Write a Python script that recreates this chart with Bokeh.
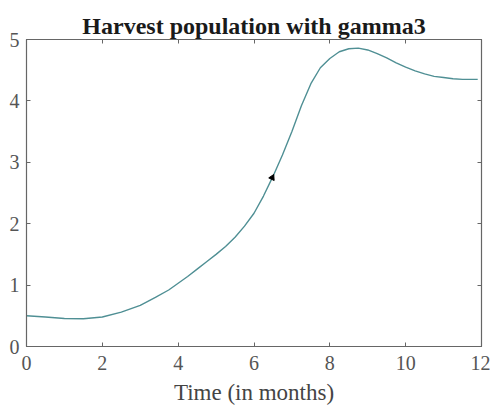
from bokeh.plotting import figure
from bokeh.models import LinearAxis, Range1d, FixedTicker
from bokeh.embed import file_html
from bokeh.resources import INLINE

title_text = "Harvest population with gamma3"
x_label = "Time (in months)"
x_ticks = [0, 2, 4, 6, 8, 10, 12]
y_ticks = [0, 1, 2, 3, 4, 5]

time = [0, 0.5, 1.0, 1.5, 2.0, 2.5, 3.0, 3.4, 3.75, 4.0, 4.25, 4.5, 4.75, 5.0,
        5.25, 5.5, 5.75, 6.0, 6.25, 6.5, 6.75, 7.0, 7.25, 7.5, 7.75, 8.0, 8.25,
        8.5, 8.75, 9.0, 9.25, 9.5, 9.75, 10.0, 10.25, 10.5, 10.75, 11.0, 11.25,
        11.5, 11.9]
population = [0.50, 0.48, 0.455, 0.452, 0.48, 0.56, 0.67, 0.80, 0.92, 1.03, 1.14,
              1.26, 1.38, 1.50, 1.63, 1.78, 1.96, 2.17, 2.45, 2.77, 3.12, 3.50,
              3.92, 4.28, 4.54, 4.69, 4.80, 4.85, 4.86, 4.83, 4.77, 4.70, 4.62,
              4.55, 4.49, 4.44, 4.40, 4.38, 4.36, 4.35, 4.35]
arrow_t = [6.48]
arrow_y = [2.75]

serif = "Liberation Serif"
axis_grey = "#666666"

p = figure(width=490, height=407, output_backend="svg", toolbar_location=None,
           x_range=Range1d(0, 12), y_range=Range1d(0, 5),
           min_border_left=26, min_border_right=9, min_border_top=39, min_border_bottom=10)

p.title.text = title_text
p.title.text_font = serif
p.title.text_font_size = "24px"
p.title.text_font_style = "bold"
p.title.text_color = "#1a1a1a"
p.title.align = "center"
p.title.offset = 0
p.title.standoff = 2

p.grid.visible = False
p.outline_line_color = axis_grey
p.outline_line_width = 1.2

p.line(time, population, line_color="#4f8f94", line_width=1.4)
p.scatter(arrow_t, arrow_y, marker="triangle", size=6, angle=-0.45,
          fill_color="black", line_color="black")

for ax in [p.xaxis[0], p.yaxis[0]]:
    ax.major_tick_in = 4
    ax.major_tick_out = 0
    ax.minor_tick_in = 0
    ax.minor_tick_out = 0
    ax.axis_line_color = axis_grey
    ax.major_tick_line_color = axis_grey
    ax.major_label_text_font = serif
    ax.major_label_text_font_size = "20px"
    ax.major_label_text_color = "#555555"

p.xaxis.ticker = FixedTicker(ticks=x_ticks)
p.yaxis.ticker = FixedTicker(ticks=y_ticks)
p.xaxis.axis_label = x_label
p.xaxis.axis_label_text_font = serif
p.xaxis.axis_label_text_font_size = "23px"
p.xaxis.axis_label_text_font_style = "normal"
p.xaxis.axis_label_text_color = "#444444"
p.xaxis.axis_label_standoff = 7
p.xaxis.major_label_standoff = 9
p.yaxis.major_label_standoff = 7

top = LinearAxis(ticker=FixedTicker(ticks=x_ticks), major_tick_in=4, major_tick_out=0,
                 minor_tick_in=0, minor_tick_out=0,
                 major_label_overrides={t: "" for t in x_ticks},
                 axis_line_color=axis_grey, major_tick_line_color=axis_grey)
right = LinearAxis(ticker=FixedTicker(ticks=y_ticks), major_tick_in=4, major_tick_out=0,
                   minor_tick_in=0, minor_tick_out=0,
                   major_label_overrides={t: "" for t in y_ticks},
                   axis_line_color=axis_grey, major_tick_line_color=axis_grey)
p.add_layout(top, "above")
p.add_layout(right, "right")

open("out.html", "w").write(file_html(p, INLINE))
